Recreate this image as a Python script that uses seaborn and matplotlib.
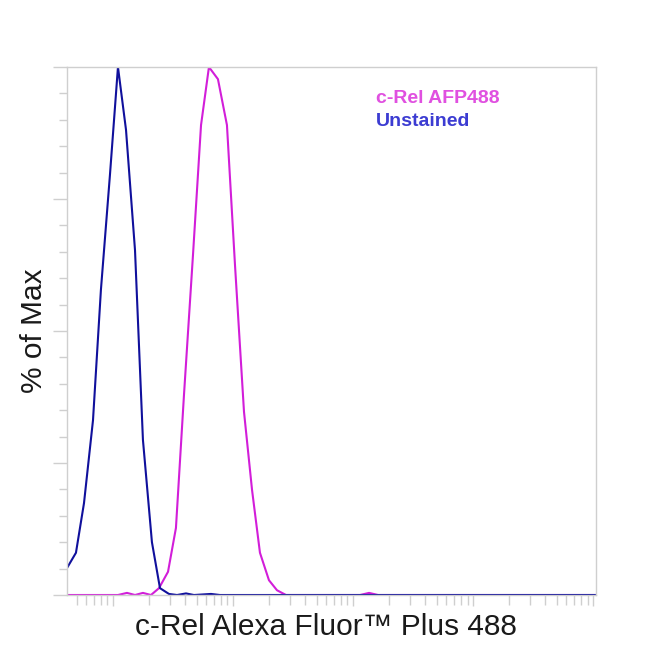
import numpy as np
import pandas as pd
import seaborn as sns
import matplotlib.pyplot as plt
from matplotlib.ticker import LogLocator, MultipleLocator, NullFormatter

# Histogram points, x as log10 of intensity, y as % of max
UNSTAINED_LOGX = [1.617, 1.617, 1.692, 1.759, 1.834, 1.900, 1.975, 2.042, 2.109, 2.184,
                  2.250, 2.325, 2.392, 2.467, 2.534, 2.609, 2.675, 2.817, 2.892, 6.025]
UNSTAINED_PCT = [0.0, 5.1, 8.0, 17.4, 33.1, 57.8, 79.5, 100.0, 88.1, 65.3,
                 29.4, 10.0, 1.3, 0.2, 0.0, 0.3, 0.0, 0.2, 0.0, 0.0]

CREL_LOGX = [1.617, 2.042, 2.117, 2.184, 2.250, 2.317, 2.384, 2.459, 2.525, 2.592,
             2.667, 2.734, 2.800, 2.875, 2.950, 3.017, 3.092, 3.159, 3.225, 3.300,
             3.367, 3.442, 4.059, 4.134, 4.209, 6.025]
CREL_PCT = [0.0, 0.0, 0.4, 0.0, 0.4, 0.0, 1.3, 4.4, 12.7, 37.9,
            64.4, 89.0, 100.0, 97.7, 89.0, 62.5, 34.7, 19.9, 8.0, 2.8,
            0.9, 0.0, 0.0, 0.4, 0.0, 0.0]

SAMPLES = ['c-Rel AFP488', 'Unstained']
LINE_COLORS = {'c-Rel AFP488': '#d21ed9', 'Unstained': '#10109c'}
TEXT_COLORS = {'c-Rel AFP488': '#e050e0', 'Unstained': '#3c3cd2'}

df = pd.concat([
    pd.DataFrame({'x': 10 ** np.array(CREL_LOGX), 'pct': CREL_PCT, 'sample': SAMPLES[0]}),
    pd.DataFrame({'x': 10 ** np.array(UNSTAINED_LOGX), 'pct': UNSTAINED_PCT, 'sample': SAMPLES[1]}),
], ignore_index=True)

sns.set_style('white')
plt.rcParams['font.family'] = ['Liberation Sans', 'DejaVu Sans']

fig = plt.figure(figsize=(6.5, 6.5), dpi=100)
ax = fig.add_axes([0.103, 0.0846, 0.814, 0.8123])

sns.lineplot(data=df, x='x', y='pct', hue='sample', palette=LINE_COLORS,
             estimator=None, sort=False, linewidth=1.5, legend=False, ax=ax)

ax.set_xscale('log')
ax.set_xlim(10 ** 1.617, 10 ** 6.025)
ax.set_ylim(0, 100)

ax.xaxis.set_major_locator(LogLocator(base=10))
ax.xaxis.set_minor_locator(LogLocator(base=10, subs=np.arange(2, 10)))
ax.xaxis.set_major_formatter(NullFormatter())
ax.xaxis.set_minor_formatter(NullFormatter())
ax.yaxis.set_major_locator(MultipleLocator(25))
ax.yaxis.set_minor_locator(MultipleLocator(5))
ax.yaxis.set_major_formatter(NullFormatter())

grey = '#cfcfcf'
for s in ax.spines.values():
    s.set_color(grey)
    s.set_linewidth(1.0)
ax.tick_params(axis='both', which='major', direction='out', color=grey, width=1.0)
ax.tick_params(axis='y', which='major', length=10, left=True)
ax.tick_params(axis='y', which='minor', length=6, left=True, color=grey, width=1.0)
ax.tick_params(axis='x', which='major', length=8, bottom=True)
ax.tick_params(axis='x', which='minor', length=7, bottom=True, color=grey, width=1.0)

ax.set_xlabel('c-Rel Alexa Fluor\u2122 Plus 488', fontsize=21.5, color='#1a1a1a', labelpad=1)
ax.xaxis.set_label_coords(0.49, -0.035, transform=ax.transAxes)
ax.xaxis.label.set_va('top')
ax.set_ylabel('% of Max', fontsize=21.5, color='#1a1a1a', labelpad=0)

ax.text(0.584, 0.941, SAMPLES[0], transform=ax.transAxes, fontsize=14,
        fontweight='bold', color=TEXT_COLORS[SAMPLES[0]], va='center', ha='left')
ax.text(0.584, 0.896, SAMPLES[1], transform=ax.transAxes, fontsize=14,
        fontweight='bold', color=TEXT_COLORS[SAMPLES[1]], va='center', ha='left')

fig.savefig('out.png', dpi=100)
